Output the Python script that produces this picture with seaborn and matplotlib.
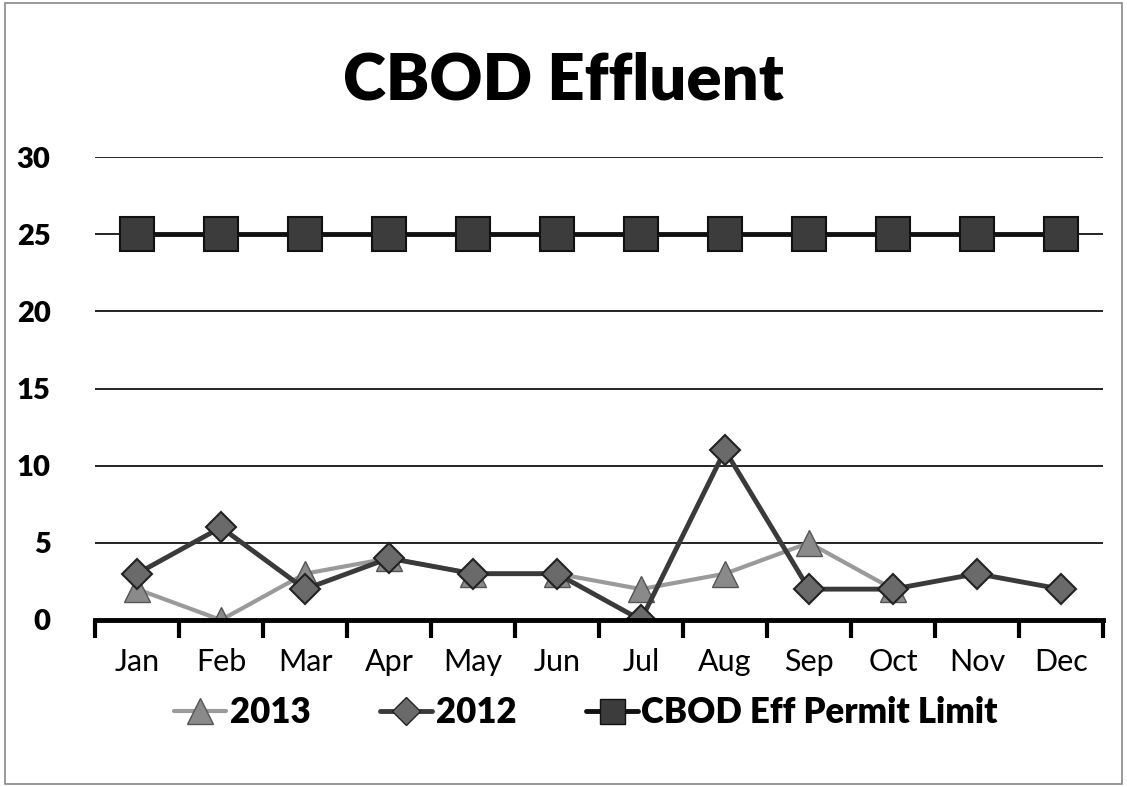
import matplotlib
matplotlib.use("Agg")
import matplotlib.pyplot as plt
import seaborn as sns
import numpy as np
import pandas as pd
from matplotlib.lines import Line2D
from matplotlib.patches import Rectangle

months = ["Jan", "Feb", "Mar", "Apr", "May", "Jun", "Jul", "Aug", "Sep", "Oct", "Nov", "Dec"]
vals_2013 = [2, 0, 3, 4, 3, 3, 2, 3, 5, 2, np.nan, np.nan]
vals_2012 = [3, 6, 2, 4, 3, 3, 0, 11, 2, 2, 3, 2]
permit_limit = [25, 25, 25, 25, 25, 25, 25, 25, 25, 25, 25, 25]
yticks = [0, 5, 10, 15, 20, 25, 30]

sns.set_theme(style="white")
plt.rcParams['font.family'] = ['Lato', 'DejaVu Sans']
plt.rcParams['text.color'] = 'black'
plt.rcParams['xtick.color'] = 'black'
plt.rcParams['ytick.color'] = 'black'

fig = plt.figure(figsize=(11.27, 7.87), dpi=100)
ax = fig.add_axes([0.0843, 0.2122, 0.8944, 0.5883])

df = pd.DataFrame({"month": months, "2013": vals_2013, "2012": vals_2012, "limit": permit_limit})

sns.lineplot(data=df, x="month", y="2013", ax=ax, color="#9a9a9a", lw=3,
             marker="^", markersize=19, markerfacecolor="#8a8a8a", markeredgecolor="#555555",
             markeredgewidth=1, zorder=3, sort=False)
sns.lineplot(data=df, x="month", y="2012", ax=ax, color="#3a3a3a", lw=3.5,
             marker="D", markersize=15, markerfacecolor="#6a6a6a", markeredgecolor="#222222",
             markeredgewidth=1.5, zorder=4, sort=False)
sns.lineplot(data=df, x="month", y="limit", ax=ax, color="#111111", lw=3.5,
             marker="s", markersize=24, markerfacecolor="#3c3c3c", markeredgecolor="#111111",
             markeredgewidth=1.5, zorder=5, sort=False)

ax.set_xlim(-0.5, 11.5)
ax.set_ylim(0, 30)
ax.set_yticks(yticks)
ax.set_yticklabels([str(v) for v in yticks], fontsize=21, fontweight="heavy")
ax.set_xticks(range(12))
ax.set_xticklabels(months, fontsize=22)
ax.set_xticks(np.arange(-0.5, 12, 1), minor=True)
ax.tick_params(axis="x", which="both", bottom=True)
ax.tick_params(axis="x", which="major", length=0, pad=20, colors="black")
ax.tick_params(axis="x", which="minor", length=13, width=3, direction="out", color="black")
ax.tick_params(axis="y", length=0, pad=32, colors="black")
ax.set_xlabel("")
ax.set_ylabel("")
ax.grid(axis="y", color="black", lw=1.2)
ax.grid(axis="x", visible=False)
for s in ["top", "right", "left"]:
    ax.spines[s].set_visible(False)
ax.spines["bottom"].set_color("black")
ax.spines["bottom"].set_linewidth(3.5)
ax.spines["bottom"].set_zorder(6)

fig.text(0.5, 0.897, "CBOD Effluent", ha="center", va="center", fontsize=47,
         fontweight="heavy", color="black")

handles = [
    Line2D([], [], color="#9a9a9a", lw=3, marker="^", markersize=19, markerfacecolor="#8a8a8a", markeredgecolor="#555555"),
    Line2D([], [], color="#3a3a3a", lw=3.5, marker="D", markersize=14, markerfacecolor="#6a6a6a", markeredgecolor="#222222"),
    Line2D([], [], color="#111111", lw=3.5, marker="s", markersize=18, markerfacecolor="#3c3c3c", markeredgecolor="#111111"),
]
leg = fig.legend(handles, ["2013", "2012", "CBOD Eff Permit Limit"], loc="center",
                 bbox_to_anchor=(0.52, 0.095), ncol=3, frameon=False, handlelength=1.5,
                 handletextpad=0.1, columnspacing=2.0, prop={"size": 25, "weight": "heavy"})

fig.patches.append(Rectangle((0.004, 0.004), 0.992, 0.992, transform=fig.transFigure,
                             fill=False, edgecolor="#888888", lw=1.2))

fig.savefig("out.png", dpi=100, facecolor="white")
